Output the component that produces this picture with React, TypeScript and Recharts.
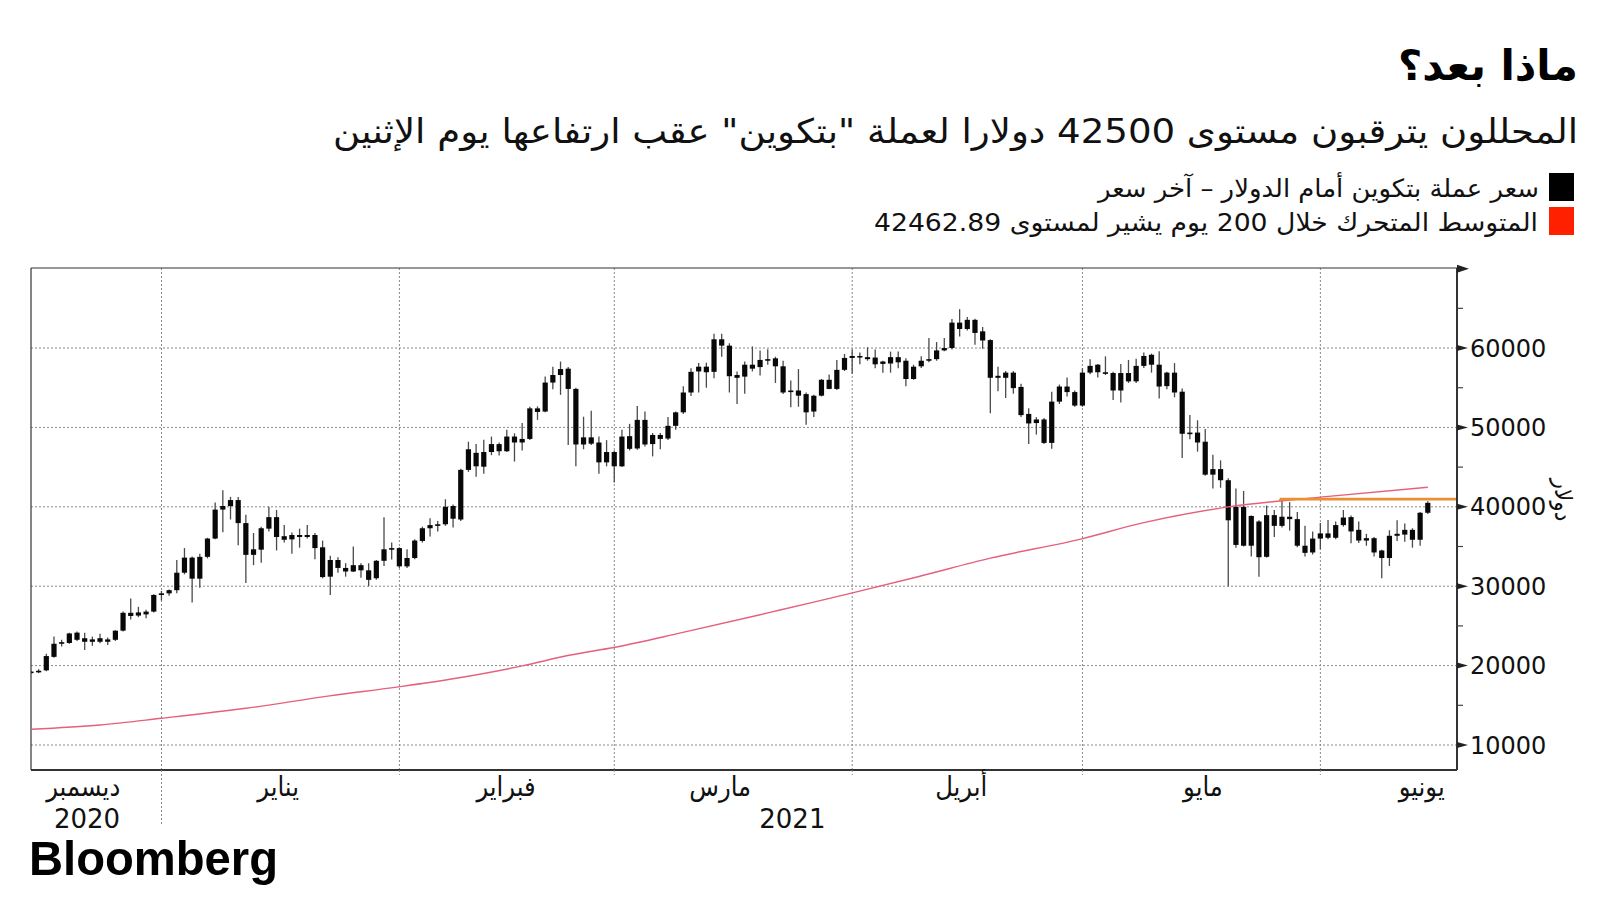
import React from "react";
import {
  ComposedChart,
  Bar,
  Line,
  XAxis,
  YAxis,
  CartesianGrid,
  ReferenceLine,
} from "recharts";

// x values are days since 1 Dec 2020; each candle sits at the close of its day
const firstDay = 14;

const opens = [
  19150, 19250, 19400, 21100, 22750, 22850, 24150, 23450, 23000, 23450,
  23000, 23250, 24400, 26650, 26300, 26450, 26800, 28900, 29100, 29500,
  31700, 33600, 30950, 33700, 36000, 39650, 40100, 40850, 37950, 33950,
  34600, 37250, 38700, 36300, 35900, 36450, 36200, 36450, 34900, 31200,
  33300, 32300, 31850, 32650, 32000, 31000, 33200, 34650, 34800, 32500,
  33550, 35700, 37300, 37650, 37800, 40100, 38400, 44650, 46800, 45050,
  46900, 47900, 47000, 48850, 48100, 48550, 52400, 52000, 55650, 56600,
  57400, 54850, 47850, 48750, 48100, 45600, 46900, 45100, 48900, 47350,
  50950, 47900, 49050, 48600, 50200, 51900, 54400, 57050, 57650, 57000,
  61100, 60300, 56250, 56400, 57900, 57600, 58500, 58700, 57700, 54450,
  54650, 54200, 52000, 54000, 56000, 54850, 57250, 58750, 59000, 58850,
  58800, 58000, 58050, 58850, 58400, 56100, 57700, 58400, 58600, 59700,
  60000, 63200, 62400, 63550, 62100, 61000, 56250, 56250, 56900, 55100,
  51700, 50550, 51000, 48050, 53250, 55150, 54450, 52750, 56900, 57900,
  56950, 56850, 54650, 56850, 55800, 57750, 59150, 57900, 55200, 56900,
  54500, 49200, 49350, 48200, 44050, 44750, 43350, 35200, 40000, 35100,
  38150, 33700, 38950, 37600, 38750, 38450, 35100, 34250, 36000, 36650,
  36100, 37700, 38700, 37100, 35750, 36050, 34500, 33550, 36350, 36500,
  37100, 35850, 39250,
];

const highs = [
  19350, 19550, 21500, 23650, 23250, 24150, 24300, 24150, 23650, 24000,
  23550, 24450, 26800, 28450, 27400, 27050, 29000, 29400, 29600, 33300,
  34800, 33750, 34100, 36100, 40550, 42100, 41250, 41250, 39000, 36700,
  37500, 40000, 39600, 37700, 36750, 37250, 37700, 36700, 35750, 33850,
  33650, 32900, 35000, 32900, 32900, 33300, 38700, 35500, 34900, 34650,
  35900, 37500, 38550, 38200, 40950, 40300, 44800, 48200, 47900, 48450,
  48850, 48100, 49700, 49250, 50550, 52600, 52650, 56400, 57650, 58300,
  57600, 55000, 51350, 52100, 48850, 48400, 47100, 49700, 50450, 52700,
  52000, 49300, 49300, 51300, 52000, 55200, 57450, 58100, 58150, 61800,
  61800, 60600, 57050, 58300, 60200, 59700, 59850, 58900, 58400, 55900,
  57350, 54400, 54100, 56100, 56650, 58500, 59250, 59800, 59450, 60100,
  59800, 58400, 59550, 59550, 58700, 57900, 58950, 61250, 60750, 61250,
  63650, 64900, 63900, 63700, 62650, 61100, 57650, 57100, 57100, 55500,
  52400, 51300, 51200, 54500, 55400, 56300, 54650, 57450, 58600, 58000,
  58950, 57000, 58000, 58500, 58650, 59450, 59300, 59600, 57000, 58100,
  54900, 51550, 50900, 49800, 46550, 45850, 43600, 42300, 42000, 38900,
  38300, 40150, 39600, 41100, 40600, 39350, 37600, 36900, 37950, 38350,
  38150, 39600, 38900, 38150, 36600, 36200, 34600, 37050, 38300, 37900,
  37300, 39350, 40700,
];

const lows = [
  19000, 19050, 19300, 21000, 22400, 22750, 23100, 21950, 22500, 22800,
  22600, 23100, 24300, 25800, 26100, 25950, 26700, 28200, 28800, 29100,
  31500, 27950, 29800, 33500, 35900, 36800, 38400, 35150, 30400, 32650,
  32950, 36900, 34500, 35500, 34100, 34850, 36000, 33400, 31000, 28900,
  31700, 31200, 31800, 31050, 30000, 30800, 32550, 33350, 32300, 32300,
  33400, 35500, 36250, 36900, 37600, 37400, 38200, 44400, 43800, 44150,
  46500, 46450, 46900, 45700, 47100, 48400, 50950, 51900, 54800, 54100,
  47800, 45100, 47250, 47800, 44150, 45100, 43050, 45000, 47100, 47200,
  47600, 46350, 47250, 48400, 49700, 51700, 53950, 54400, 55000, 56200,
  58900, 54400, 52950, 54250, 57050, 56550, 57900, 55600, 54200, 52550,
  52600, 50350, 51300, 53900, 54800, 54700, 57100, 56750, 57950, 58400,
  57450, 56900, 56900, 57450, 55200, 56000, 57500, 58200, 58400, 59600,
  59800, 61450, 62200, 60400, 59900, 51800, 54550, 53700, 54250, 51300,
  47900, 49100, 47900, 47300, 52950, 53900, 52600, 52600, 56700, 56300,
  56600, 53450, 53150, 55600, 55600, 57500, 56900, 53650, 54800, 53800,
  46150, 48500, 46950, 43900, 42300, 42400, 30000, 34850, 35000, 33750,
  31200, 33600, 36200, 37400, 37000, 34900, 33750, 34000, 34650, 35900,
  35900, 37500, 35400, 35450, 35100, 33750, 31000, 32550, 35700, 35600,
  34850, 35100, 39100,
];

const closes = [
  19250, 19350, 21200, 22750, 22950, 24050, 23250, 23000, 23300, 23000,
  23300, 24400, 26650, 26250, 26700, 26800, 28900, 29100, 29500, 31700,
  33600, 30950, 33700, 36000, 39650, 40100, 40850, 37950, 33950, 34650,
  37300, 38700, 36200, 35850, 36450, 36200, 36450, 34800, 31150, 33300,
  32300, 31850, 32650, 32000, 30800, 33200, 34650, 34800, 32500, 33550,
  35750, 37300, 37700, 37800, 40000, 38500, 44650, 47250, 45100, 46900,
  47900, 47000, 48850, 48100, 48550, 52400, 51950, 55650, 56600, 57350,
  54850, 47850, 48750, 47950, 45600, 46900, 45100, 48850, 47300, 50950,
  47850, 49050, 48550, 50200, 51900, 54400, 57000, 57650, 56950, 61100,
  60300, 56450, 56600, 57900, 57400, 58500, 58600, 57700, 54400, 54650,
  54000, 51900, 53990, 56000, 54850, 57250, 58750, 59000, 58850, 58600,
  57950, 58300, 58850, 58200, 56100, 57650, 58400, 58600, 59700, 60000,
  63200, 62400, 63550, 61900, 60950, 56250, 56500, 56900, 54950, 51550,
  50500, 51000, 48050, 53250, 55150, 54450, 52750, 56900, 57750, 56950,
  56800, 54650, 56850, 55800, 57750, 59000, 57900, 55150, 56900, 54400,
  49200, 49350, 48100, 44050, 44750, 43350, 38300, 40000, 35100, 38850,
  33650, 38950, 37600, 38750, 38450, 35100, 34200, 36000, 36650, 36100,
  37700, 38650, 36900, 35750, 36050, 34250, 33550, 36350, 36600, 37100,
  35850, 39250, 40500,
];

// 200-day moving average
const maDays = [14, 23, 31, 42, 52.9, 62.1, 69.4, 78, 84.1, 90.1, 98.8, 109, 111.6, 120.9, 129.7, 139, 150.9, 158.7, 169.8, 182, 196];
const maValues = [11980, 12520, 13360, 14620, 16180, 17350, 18410, 19960, 21300, 22310, 24150, 26400, 27000, 29120, 31220, 33530, 35970, 37940, 39960, 41220, 42463];

// level line drawn on the right
const levelValue = 40970;
const levelFrom = 176.7;
const levelHookTo = 40600;

const xDomain = [14, 199.8];
const yDomain = [6850, 70080];
const yTicks = [10000, 15000, 20000, 25000, 30000, 35000, 40000, 45000, 50000, 55000, 60000, 65000, 70000];
const gridValues = [10000, 20000, 30000, 40000, 50000, 60000];

const monthStarts = [31, 62, 90, 121, 151, 182];
const yearBoundary = 31;
const monthNames = ["ديسمبر", "يناير", "فبراير", "مارس", "أبريل", "مايو", "يونيو"];
const monthLabelAt = [20.8, 46.2, 75.9, 103.8, 135.2, 166.7, 195.2];
const yearNames = ["2020", "2021"];
const yearLabelAt = [21.3, 113.2];

const title = "ماذا بعد؟";
const subtitle = "المحللون يترقبون مستوى 42500 دولارا لعملة \"بتكوين\" عقب ارتفاعها يوم الإثنين";
const legendPrice = "سعر عملة بتكوين أمام الدولار – آخر سعر";
const legendMa = "المتوسط المتحرك خلال 200 يوم يشير لمستوى 42462.89";
const unitLabel = "دولار";

const candles = opens.map((o, i) => ({
  t: firstDay + i,
  open: o,
  high: highs[i],
  low: lows[i],
  close: closes[i],
  range: [lows[i], highs[i]],
}));
const maRows = maDays.map((t, i) => ({ t, ma: maValues[i] }));

const arabicFont = "'DejaVu Sans Condensed', 'DejaVu Sans', sans-serif";
const numFont = "'DejaVu Sans', sans-serif";

function Candle(props: any) {
  const { x, y, width, height, payload } = props;
  if (!payload) return null;
  const top0 = Math.min(y, y + height);
  const h = Math.abs(height);
  const cx = x + width / 2;
  const span = payload.high - payload.low;
  const py = (v: number) => (span > 0 ? top0 + ((payload.high - v) / span) * h : top0);
  const bTop = py(Math.max(payload.open, payload.close));
  const bBot = py(Math.min(payload.open, payload.close));
  return (
    <g>
      <line x1={cx} x2={cx} y1={top0} y2={top0 + h} stroke="#4a4a4a" strokeWidth={1.3} />
      <rect x={cx - 2.6} y={bTop} width={5.2} height={Math.max(bBot - bTop, 1.6)} fill="#080808" />
    </g>
  );
}

function PriceTick(props: any) {
  const { x, y, payload } = props;
  const v = payload.value;
  if (v === 70000) {
    return <polygon points={`${x},${y - 4} ${x + 12},${y} ${x},${y + 4}`} fill="#222" />;
  }
  if (v % 10000 !== 0) {
    return <line x1={x} x2={x + 6} y1={y} y2={y} stroke="#444" strokeWidth={1.2} />;
  }
  return (
    <g>
      <polygon points={`${x},${y - 3} ${x + 11},${y} ${x},${y + 3}`} fill="#222" />
      <text x={x + 13} y={y} dy="0.36em" fontSize={24} fontFamily={numFont} fill="#111">
        {v}
      </text>
    </g>
  );
}

function MonthTick(props: any) {
  const { x, y, payload } = props;
  const long = payload.value === yearBoundary;
  return (
    <line
      x1={x}
      x2={x}
      y1={y}
      y2={y + (long ? 56 : 5)}
      stroke="#8a8a8a"
      strokeWidth={1}
      strokeDasharray="2 2"
    />
  );
}

function MonthLabel(props: any) {
  const { x, y, payload } = props;
  const idx = monthLabelAt.indexOf(payload.value);
  return (
    <text x={x} y={y + 18} textAnchor="middle" fontSize={27} fontFamily={arabicFont} fill="#111">
      {monthNames[idx]}
    </text>
  );
}

function YearLabel(props: any) {
  const { x, y, payload } = props;
  const idx = yearLabelAt.indexOf(payload.value);
  return (
    <text x={x} y={y + 25} textAnchor="middle" fontSize={26} fontFamily={numFont} fill="#111">
      {yearNames[idx]}
    </text>
  );
}

export default function App() {
  return (
    <div style={{ position: "absolute", left: 0, top: 0, width: 1600, height: 900, background: "#fff" }}>
      <div style={{ position: "absolute", left: 0, top: 0 }}>
        <ComposedChart
          width={1600}
          height={900}
          data={candles}
          margin={{ top: 268, right: 23, bottom: 67, left: 31 }}
        >
          <CartesianGrid
            xAxisId="a1"
            yAxisId="p"
            horizontalValues={gridValues}
            verticalValues={monthStarts}
            stroke="#8a8a8a"
            strokeDasharray="2 2"
          />
          <XAxis
            xAxisId="a1"
            type="number"
            dataKey="t"
            domain={xDomain}
            allowDataOverflow
            ticks={monthStarts}
            interval={0}
            tick={<MonthTick />}
            tickLine={false}
            tickSize={0}
            tickMargin={0}
            height={8}
            axisLine={{ stroke: "#333", strokeWidth: 2 }}
          />
          <XAxis
            xAxisId="a2"
            type="number"
            dataKey="t"
            domain={xDomain}
            allowDataOverflow
            ticks={monthLabelAt}
            interval={0}
            tick={<MonthLabel />}
            tickLine={false}
            tickSize={0}
            tickMargin={0}
            axisLine={false}
            height={25}
          />
          <XAxis
            xAxisId="a3"
            type="number"
            dataKey="t"
            domain={xDomain}
            allowDataOverflow
            ticks={yearLabelAt}
            interval={0}
            tick={<YearLabel />}
            tickLine={false}
            tickSize={0}
            tickMargin={0}
            axisLine={false}
            height={30}
          />
          <YAxis
            yAxisId="p"
            orientation="right"
            type="number"
            domain={yDomain}
            allowDataOverflow
            ticks={yTicks}
            interval={0}
            width={120}
            tick={<PriceTick />}
            tickLine={false}
            tickSize={0}
            tickMargin={0}
            axisLine={{ stroke: "#333", strokeWidth: 2 }}
          />
          <ReferenceLine xAxisId="a1" yAxisId="p" x={xDomain[0]} stroke="#333" strokeWidth={1.2} ifOverflow="visible" />
          <ReferenceLine xAxisId="a1" yAxisId="p" y={yDomain[1]} stroke="#333" strokeWidth={1.2} ifOverflow="visible" />
          <Line
            xAxisId="a1"
            yAxisId="p"
            data={maRows}
            dataKey="ma"
            type="monotone"
            stroke="#e5607c"
            strokeWidth={1.4}
            dot={false}
            activeDot={false}
            isAnimationActive={false}
          />
          <Bar
            xAxisId="a1"
            yAxisId="p"
            dataKey="range"
            barSize={5}
            shape={<Candle />}
            isAnimationActive={false}
          />
          <ReferenceLine
            xAxisId="a1"
            yAxisId="p"
            segment={[{ x: levelFrom, y: levelValue }, { x: xDomain[1], y: levelValue }]}
            stroke="#ec8e36"
            strokeWidth={2.6}
            ifOverflow="visible"
          />
          <ReferenceLine
            xAxisId="a1"
            yAxisId="p"
            segment={[{ x: levelFrom, y: levelValue }, { x: levelFrom, y: levelHookTo }]}
            stroke="#ec8e36"
            strokeWidth={1.5}
            ifOverflow="visible"
          />
        </ComposedChart>
      </div>
      <svg
        width={1600}
        height={900}
        style={{ position: "absolute", left: 0, top: 0, pointerEvents: "none" }}
      >
        <text x={1578} y={80} textAnchor="end" fontSize={42} fontWeight="bold" fontFamily={arabicFont} fill="#000" textLength={180} lengthAdjust="spacingAndGlyphs">
          {title}
        </text>
        <text x={1578} y={143} textAnchor="end" fontSize={34} fontFamily={arabicFont} fill="#111" textLength={1245} lengthAdjust="spacingAndGlyphs">
          {subtitle}
        </text>
        <rect x={1549} y={173} width={25} height={28} fill="#000" />
        <text x={1539} y={197} textAnchor="end" fontSize={25} fontFamily={arabicFont} fill="#111" textLength={441} lengthAdjust="spacingAndGlyphs">
          {legendPrice}
        </text>
        <rect x={1549} y={207} width={25} height={28} fill="#ff2000" />
        <text x={1538} y={231} textAnchor="end" fontSize={25} fontFamily={arabicFont} fill="#111" textLength={664} lengthAdjust="spacingAndGlyphs">
          {legendMa}
        </text>
        <text
          x={1563}
          y={500}
          transform="rotate(90, 1563, 500)"
          textAnchor="middle"
          dominantBaseline="central"
          fontSize={24}
          fontFamily={arabicFont}
          fill="#111"
        >
          {unitLabel}
        </text>
        <text x={29} y={875} fontSize={49} fontWeight="bold" fontFamily="'Liberation Sans', Arial, sans-serif" fill="#000" textLength={249} lengthAdjust="spacingAndGlyphs">
          Bloomberg
        </text>
      </svg>
    </div>
  );
}
